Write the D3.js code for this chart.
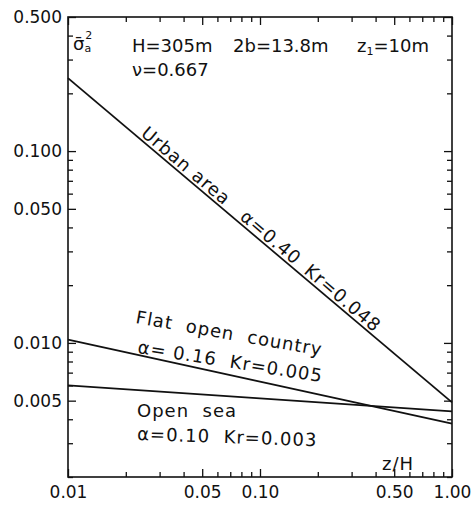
<!DOCTYPE html>
<html>
<head>
<meta charset="utf-8">
<script src="https://cdn.jsdelivr.net/npm/d3@7"></script>
<style>
  body { margin: 0; background: #fff; }
  text { font-family: "DejaVu Sans", sans-serif; fill: #111; }
  .tick text { font-size: 17px; }
  .note { font-size: 18px; letter-spacing: 1px; white-space: pre; }
  .head { font-size: 18px; white-space: pre; }
</style>
</head>
<body>
<div id="graph"></div>
<script>
// data (z/H endpoints, variance values)
var zH = [0.01, 1.0];
var urban = [0.240, 0.0049];
var flat = [0.0104, 0.0038];
var sea = [0.0060, 0.0044];
var xTickLabels = [0.01, 0.05, 0.10, 0.50, 1.00];
var yTickLabels = [0.005, 0.010, 0.050, 0.100, 0.500];

// set the dimensions and margins of the graph
var margin = {top: 17, right: 23, bottom: 29, left: 68},
    width = 475 - margin.left - margin.right,
    height = 506 - margin.top - margin.bottom;

var svg = d3.select("#graph")
  .append("svg")
  .attr("width", 475)
  .attr("height", 506)
  .append("g")
  .attr("transform", "translate(" + margin.left + "," + margin.top + ")");

var x = d3.scaleLog().domain([0.01, 1]).range([0, width]);
var y = d3.scaleLog().domain([0.002, 0.5]).range([height, 0]);

// every 1..9 in each decade inside the domain
function logTicks(lo, hi) {
  var out = [];
  for (var e = -4; e <= 1; e++) {
    for (var m = 1; m <= 9; m++) {
      var v = +(m * Math.pow(10, e)).toPrecision(3);
      if (v >= lo - 1e-9 && v <= hi + 1e-9) out.push(v);
    }
  }
  return out;
}
var xMinor = logTicks(0.01, 1).filter(function(v){ return xTickLabels.indexOf(v) < 0; });
var yMinor = logTicks(0.002, 0.5).filter(function(v){ return yTickLabels.indexOf(v) < 0; });

function styleAxis(g) {
  g.select(".domain").remove();
  g.selectAll("line").attr("stroke", "#111").attr("stroke-width", 1.3);
}

// major ticks with labels (inward)
svg.append("g").attr("transform", "translate(0," + height + ")")
  .call(d3.axisBottom(x).tickValues(xTickLabels).tickFormat(d3.format(".2f"))
    .tickSizeInner(-8).tickSizeOuter(0).tickPadding(9))
  .call(styleAxis);
svg.append("g")
  .call(d3.axisLeft(y).tickValues(yTickLabels).tickFormat(d3.format(".3f"))
    .tickSizeInner(-8).tickSizeOuter(0).tickPadding(6))
  .call(styleAxis);
svg.append("g")
  .call(d3.axisTop(x).tickValues(xTickLabels).tickFormat("").tickSizeInner(-8).tickSizeOuter(0))
  .call(styleAxis);
svg.append("g").attr("transform", "translate(" + width + ",0)")
  .call(d3.axisRight(y).tickValues(yTickLabels).tickFormat("").tickSizeInner(-8).tickSizeOuter(0))
  .call(styleAxis);

// minor ticks
svg.append("g").attr("transform", "translate(0," + height + ")")
  .call(d3.axisBottom(x).tickValues(xMinor).tickFormat("").tickSizeInner(-5).tickSizeOuter(0))
  .call(styleAxis);
svg.append("g")
  .call(d3.axisTop(x).tickValues(xMinor).tickFormat("").tickSizeInner(-5).tickSizeOuter(0))
  .call(styleAxis);
svg.append("g")
  .call(d3.axisLeft(y).tickValues(yMinor).tickFormat("").tickSizeInner(-5).tickSizeOuter(0))
  .call(styleAxis);
svg.append("g").attr("transform", "translate(" + width + ",0)")
  .call(d3.axisRight(y).tickValues(yMinor).tickFormat("").tickSizeInner(-5).tickSizeOuter(0))
  .call(styleAxis);

// frame
svg.append("rect")
  .attr("width", width).attr("height", height)
  .attr("fill", "none").attr("stroke", "#111").attr("stroke-width", 1.6);

// the three lines
var line = d3.line()
  .x(function(d){ return x(d[0]); })
  .y(function(d){ return y(d[1]); });
[urban, flat, sea].forEach(function(s) {
  svg.append("path")
    .datum(zH.map(function(z, i){ return [z, s[i]]; }))
    .attr("d", line)
    .attr("fill", "none")
    .attr("stroke", "#111")
    .attr("stroke-width", 1.8);
});

// labels along the urban line
var ux0 = x(zH[0]), uy0 = y(urban[0]), ux1 = x(zH[1]), uy1 = y(urban[1]);
var uAngle = Math.atan2(uy1 - uy0, ux1 - ux0) * 180 / Math.PI;
function alongUrban(label, px) {
  var py = uy0 + (px - ux0) * (uy1 - uy0) / (ux1 - ux0);
  svg.append("text").attr("class", "note")
    .attr("transform", "translate(" + px + "," + py + ") rotate(" + uAngle + ")")
    .attr("y", -3)
    .text(label);
}
alongUrban("Urban area", 70);
alongUrban("α=0.40", 169);
alongUrban("Kr=0.048", 233);

// free labels (page coords)
var root = d3.select("svg");
function note(label, px, py, rot, cls) {
  return root.append("text").attr("class", cls || "note")
    .attr("transform", "translate(" + px + "," + py + ") rotate(" + (rot || 0) + ")")
    .text(label);
}
note("Flat  open  country", 135, 323, 10);
note("α= 0.16  Kr=0.005", 137, 353, 9);
note("Open  sea", 137, 417, 0);
note("α=0.10  Kr=0.003", 137, 440, 2);
note("z/H", 382, 470, 0);

// header
var sig = root.append("text").attr("class", "head").attr("x", 73).attr("y", 50);
sig.append("tspan").text("σ\u0304");
sig.append("tspan").attr("font-size", "11px").attr("dy", 2).text("a");
sig.append("tspan").attr("font-size", "11px").attr("dx", -6).attr("dy", -13).text("2");

note("H=305m", 132, 52, 0, "head");
note("2b=13.8m", 233, 52, 0, "head");
var z1 = root.append("text").attr("class", "head").attr("x", 357).attr("y", 52);
z1.append("tspan").text("z");
z1.append("tspan").attr("font-size", "11px").attr("dy", 3).text("1");
z1.append("tspan").attr("dy", -3).text("=10m");
note("ν=0.667", 132, 76, 0, "head");
</script>
</body>
</html>
